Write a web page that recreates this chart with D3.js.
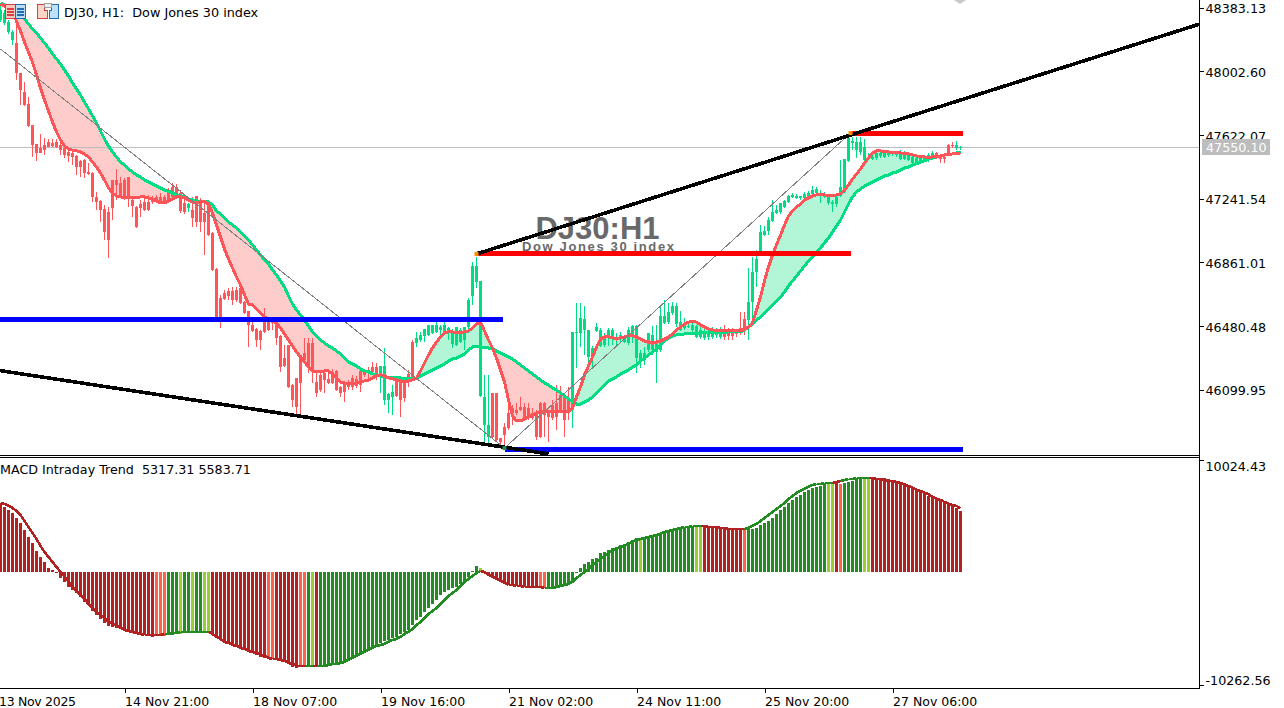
<!DOCTYPE html>
<html>
<head>
<meta charset="utf-8">
<script src="https://cdn.jsdelivr.net/npm/d3@7/dist/d3.min.js"></script>
<style>
html,body{margin:0;padding:0;background:#fff;overflow:hidden}
svg{display:block}
text{font-family:"DejaVu Sans",sans-serif;font-size:12.7px;fill:#000}
</style>
</head>
<body>
<div id="chart"></div>
<script>
const candleOpen=[48308,48291,48237,48189,48171,47992,47878,47806,47681,47567,47543,47561,47579,47573,47579,47561,47543,47520,47514,47496,47466,47472,47400,47394,47251,47227,47179,47161,47352,47352,47334,47352,47370,47233,47191,47209,47221,47221,47245,47251,47251,47251,47280,47310,47310,47274,47215,47185,47173,47257,47215,47155,47203,47035,46820,46647,46677,46689,46689,46695,46707,46623,46569,46486,46462,46450,46533,46515,46515,46498,46420,46288,46366,46127,46169,46306,46318,46378,46378,46145,46187,46199,46163,46205,46211,46115,46139,46139,46169,46163,46211,46205,46217,46235,46235,46193,46037,46037,46055,46157,46169,46139,46193,46384,46378,46396,46420,46426,46438,46444,46456,46444,46450,46372,46366,46384,46396,46474,46659,46743,46061,45888,45816,46079,46079,45810,45876,45960,45989,45978,45995,45995,45989,45960,45966,46019,46019,45966,46007,46019,46067,46055,46037,45978,46438,46438,46456,46294,46288,46450,46360,46366,46408,46408,46396,46408,46384,46378,46414,46288,46264,46276,46336,46336,46324,46336,46498,46503,46557,46492,46456,46468,46474,46456,46414,46414,46408,46414,46414,46426,46414,46456,46444,46444,46444,46468,46521,46515,46623,46802,46922,47023,47047,47107,47155,47161,47191,47221,47251,47245,47245,47245,47251,47269,47274,47257,47251,47215,47209,47209,47257,47280,47466,47573,47531,47520,47472,47478,47478,47484,47496,47490,47502,47508,47502,47478,47478,47472,47454,47448,47460,47472,47472,47484,47514,47490,47490,47561,47561,47543,47543];
const candleHigh=[48398,48368,48308,48249,48279,47992,47938,47848,47681,47567,47627,47603,47597,47597,47597,47573,47555,47549,47531,47502,47472,47478,47454,47400,47280,47233,47203,47191,47352,47418,47370,47364,47370,47251,47197,47233,47263,47263,47257,47263,47274,47263,47304,47334,47328,47292,47251,47215,47251,47257,47245,47215,47209,47041,46826,46665,46695,46707,46713,46713,46725,46629,46569,46503,46468,46456,46587,46533,46527,46503,46426,46366,46366,46133,46169,46306,46408,46408,46408,46205,46211,46217,46217,46223,46217,46121,46151,46157,46187,46181,46217,46223,46235,46264,46258,46241,46348,46079,46127,46175,46169,46169,46217,46396,46444,46444,46462,46486,46486,46503,46486,46503,46474,46462,46474,46468,46474,46647,46862,46892,46749,46187,46187,46079,46079,45810,45900,46007,46007,46019,46055,46019,46019,45989,45978,46025,46025,45978,46037,46127,46121,46055,46115,46444,46617,46617,46599,46456,46360,46498,46468,46438,46468,46468,46438,46444,46420,46474,46486,46486,46336,46354,46438,46480,46486,46593,46635,46617,46623,46617,46569,46527,46498,46498,46486,46480,46474,46474,46474,46468,46474,46486,46468,46468,46462,46563,46563,46828,46892,46934,47083,47077,47131,47233,47203,47215,47233,47263,47274,47269,47257,47280,47286,47316,47310,47292,47280,47269,47233,47263,47472,47478,47609,47609,47609,47609,47597,47514,47514,47526,47520,47520,47526,47526,47526,47531,47526,47520,47502,47496,47496,47502,47514,47526,47520,47502,47502,47567,47579,47585,47555];
const candleLow=[48297,48279,48225,48159,47950,47800,47794,47669,47490,47466,47514,47502,47549,47549,47543,47502,47484,47460,47442,47382,47370,47364,47382,47221,47173,47101,46994,46886,47113,47233,47245,47233,47191,47131,47065,47131,47167,47167,47209,47215,47209,47215,47221,47245,47251,47155,47149,47161,47071,47071,47041,46904,47017,46808,46521,46468,46635,46635,46605,46623,46611,46551,46354,46444,46354,46336,46438,46450,46456,46366,46205,46235,46109,45995,45948,45948,46264,46199,46139,46055,46085,46079,46133,46133,46091,46055,46025,46097,46097,46109,46085,46175,46145,46199,46157,46079,46007,45960,45948,46055,45936,46025,46115,46169,46354,46384,46384,46420,46432,46438,46426,46426,46396,46348,46360,46378,46336,46438,46605,46707,46055,45768,45768,45804,45786,45768,45750,45858,45888,45948,45972,45924,45918,45918,45798,45810,45816,45786,45918,45858,45960,45816,45918,45870,46229,46354,46306,46229,46235,46444,46354,46354,46360,46366,46366,46378,46378,46366,46378,46199,46229,46246,46324,46306,46139,46324,46492,46492,46545,46474,46450,46456,46468,46444,46408,46402,46396,46396,46402,46408,46402,46396,46396,46396,46414,46426,46426,46396,46527,46713,46916,47017,47023,47101,47149,47149,47185,47215,47245,47239,47233,47239,47239,47263,47257,47215,47245,47203,47161,47191,47251,47274,47460,47531,47484,47502,47466,47472,47472,47472,47484,47484,47490,47496,47490,47472,47472,47466,47442,47442,47454,47466,47460,47472,47478,47454,47454,47496,47543,47531,47531];
const candleClose=[48368,48350,48297,48237,47992,47890,47800,47675,47561,47514,47514,47531,47549,47555,47549,47531,47502,47496,47490,47430,47430,47394,47388,47251,47221,47173,47041,46994,47185,47322,47251,47239,47245,47197,47071,47185,47173,47173,47221,47221,47221,47221,47227,47251,47263,47167,47161,47209,47125,47101,47101,47101,47023,46814,46527,46515,46641,46659,46635,46635,46617,46557,46486,46450,46396,46396,46444,46456,46498,46408,46235,46241,46115,46037,45995,46139,46276,46235,46217,46079,46097,46157,46139,46139,46097,46079,46085,46115,46115,46121,46127,46187,46199,46205,46193,46241,46241,46073,46085,46061,46037,46049,46169,46175,46408,46426,46462,46486,46486,46486,46474,46486,46468,46450,46474,46456,46474,46635,46838,46838,46749,46055,45888,45816,45798,45786,45828,45870,45960,45960,45978,45930,45930,45930,45816,45816,45948,45936,45930,45936,45978,45918,45960,46444,46444,46527,46521,46456,46348,46474,46456,46408,46456,46456,46414,46426,46414,46456,46480,46480,46318,46318,46438,46426,46378,46539,46539,46563,46599,46599,46503,46486,46480,46486,46480,46456,46450,46450,46450,46444,46450,46414,46420,46420,46432,46438,46468,46623,46802,46880,47041,47047,47113,47161,47173,47215,47227,47257,47263,47257,47257,47269,47274,47292,47298,47274,47269,47257,47221,47251,47310,47478,47603,47585,47579,47579,47549,47490,47490,47514,47514,47514,47520,47520,47520,47520,47514,47514,47490,47484,47490,47490,47502,47514,47484,47478,47478,47502,47555,47561,47549];
const fastMA=[48404,48392,48380,48350,48302,48243,48177,48117,48057,47980,47902,47830,47765,47699,47639,47591,47555,47537,47531,47526,47520,47508,47490,47460,47430,47394,47352,47304,47274,47257,47251,47245,47245,47245,47245,47251,47251,47245,47239,47227,47215,47215,47227,47239,47251,47251,47245,47233,47221,47215,47221,47221,47209,47155,47083,47012,46940,46880,46826,46772,46725,46665,46611,46605,46581,46557,46533,46521,46509,46498,46468,46432,46396,46360,46324,46294,46264,46235,46211,46205,46205,46211,46211,46193,46169,46145,46139,46133,46133,46139,46145,46151,46157,46169,46181,46187,46181,46169,46163,46157,46151,46145,46151,46157,46169,46211,46258,46306,46348,46384,46414,46438,46444,46444,46438,46438,46444,46450,46468,46492,46503,46450,46396,46348,46288,46217,46145,46037,45942,45912,45912,45924,45936,45948,45960,45966,45966,45966,45966,45966,45966,45966,45966,45989,46055,46115,46187,46241,46294,46354,46402,46414,46414,46408,46402,46408,46414,46420,46420,46414,46402,46390,46384,46378,46384,46390,46402,46414,46432,46456,46474,46492,46503,46509,46503,46486,46474,46462,46456,46450,46450,46450,46450,46450,46450,46450,46462,46474,46498,46575,46653,46749,46832,46904,46964,47023,47083,47137,47167,47191,47209,47233,47245,47257,47263,47263,47263,47257,47257,47263,47269,47292,47322,47358,47388,47418,47454,47484,47514,47526,47526,47520,47520,47514,47514,47514,47508,47508,47502,47496,47490,47490,47484,47490,47490,47496,47502,47502,47508,47508,47514];
const slowMA=[48410,48398,48380,48368,48350,48332,48314,48285,48255,48231,48201,48171,48141,48105,48075,48045,48010,47974,47932,47896,47860,47818,47777,47735,47693,47645,47597,47555,47520,47490,47460,47442,47418,47400,47382,47370,47352,47340,47328,47316,47304,47292,47286,47274,47263,47257,47251,47239,47233,47227,47221,47221,47221,47203,47167,47149,47125,47101,47083,47065,47041,47017,46994,46964,46934,46904,46874,46850,46814,46784,46749,46713,46659,46611,46575,46545,46515,46480,46444,46420,46396,46378,46360,46348,46330,46312,46288,46264,46252,46241,46223,46211,46205,46193,46187,46181,46175,46169,46169,46169,46169,46163,46163,46163,46169,46181,46193,46205,46217,46229,46241,46252,46270,46282,46288,46300,46312,46336,46354,46354,46354,46348,46348,46342,46330,46318,46306,46294,46282,46264,46246,46229,46211,46193,46175,46157,46139,46127,46109,46097,46079,46061,46043,46025,46013,46013,46025,46037,46055,46079,46103,46127,46151,46163,46175,46193,46205,46217,46235,46246,46270,46288,46306,46324,46342,46366,46390,46408,46420,46426,46426,46432,46432,46432,46432,46438,46438,46438,46438,46438,46438,46438,46444,46444,46444,46444,46456,46474,46492,46515,46533,46557,46581,46605,46629,46653,46683,46719,46749,46778,46808,46838,46868,46892,46922,46946,46976,47006,47041,47077,47113,47161,47209,47251,47280,47298,47316,47328,47340,47352,47364,47376,47382,47394,47400,47412,47424,47430,47442,47448,47460,47466,47478,47484,47490,47496,47502,47502,47508,47514,47514];
const macdHist=[6059,5707,5442,5177,4736,4295,3678,3061,2531,1826,1297,856,326,150,-115,-556,-908,-1349,-1614,-1879,-2231,-2672,-2937,-3466,-3819,-4172,-4525,-4789,-4877,-4966,-5054,-5230,-5318,-5318,-5407,-5495,-5583,-5671,-5759,-5671,-5671,-5671,-5583,-5583,-5495,-5495,-5407,-5407,-5318,-5318,-5318,-5318,-5318,-5407,-5759,-5936,-6200,-6289,-6465,-6553,-6641,-6818,-7082,-7170,-7347,-7523,-7611,-7700,-7700,-7700,-7876,-7964,-8141,-8405,-8493,-8405,-8405,-8317,-8317,-8317,-8317,-8317,-8317,-8229,-8141,-8052,-8052,-7876,-7611,-7435,-7259,-7082,-6906,-6729,-6465,-6289,-6112,-6024,-5847,-5759,-5495,-5318,-5142,-4701,-4260,-3996,-3554,-3202,-2849,-2496,-2055,-1790,-1614,-1438,-1349,-1085,-908,-467,60,503,326,-115,-203,-467,-556,-820,-1085,-1085,-1173,-1261,-1261,-1349,-1349,-1349,-1349,-1349,-1349,-1349,-1349,-1349,-1261,-1261,-1173,-997,-115,326,679,856,1120,1208,1649,1738,1914,2090,2179,2355,2443,2620,2796,2972,2972,3061,3061,3149,3237,3325,3413,3502,3590,3766,3854,3854,3943,3943,3943,3943,4031,4031,3943,3943,3943,3943,3854,3854,3766,3766,3766,3766,3766,3854,4119,4295,4472,4736,5089,5442,5707,6059,6324,6589,6765,7030,7206,7382,7470,7559,7735,7823,7823,7823,7735,7823,7911,8000,8176,8264,8264,8264,8264,8264,8264,8264,8176,8088,8000,7911,7823,7559,7382,7206,7030,6853,6677,6589,6500,6236,6059,5883,5795,5618,5317];
const macdSignal=[6059,5971,5795,5618,5354,5001,4472,3943,3413,2884,2267,1738,1297,856,415,-26,-379,-908,-1349,-1702,-2055,-2408,-2849,-3202,-3554,-3819,-4084,-4437,-4613,-4789,-4966,-5142,-5230,-5318,-5407,-5495,-5583,-5583,-5583,-5583,-5583,-5495,-5495,-5407,-5407,-5318,-5318,-5318,-5318,-5318,-5318,-5318,-5318,-5495,-5759,-5936,-6200,-6289,-6465,-6553,-6729,-6818,-6994,-7082,-7170,-7347,-7435,-7611,-7700,-7700,-7788,-7876,-8052,-8141,-8317,-8317,-8317,-8317,-8317,-8317,-8317,-8317,-8229,-8141,-8141,-8052,-7964,-7788,-7611,-7435,-7259,-7082,-6906,-6729,-6553,-6465,-6377,-6200,-6024,-5936,-5759,-5495,-5318,-5054,-4701,-4437,-4084,-3731,-3466,-3202,-2849,-2496,-2143,-1879,-1614,-1261,-908,-644,-379,-115,58,-26,-291,-467,-644,-820,-997,-1173,-1173,-1261,-1261,-1349,-1349,-1349,-1349,-1349,-1438,-1438,-1438,-1349,-1261,-1173,-1085,-908,-556,-291,-26,238,591,856,1120,1385,1649,1826,2002,2179,2267,2443,2620,2796,2884,2972,3061,3149,3237,3325,3502,3590,3678,3766,3854,3943,3943,4031,4031,4031,4031,3943,3943,3943,3854,3854,3766,3766,3766,3766,3766,3854,4031,4207,4472,4736,5001,5266,5530,5795,6059,6412,6677,6941,7118,7294,7470,7647,7735,7735,7823,7823,7823,7911,8000,8088,8176,8176,8264,8264,8264,8264,8264,8176,8176,8088,8000,8000,7911,7823,7647,7559,7382,7206,7118,6941,6853,6589,6412,6324,6147,5971,5883,5795,5584];
const histRuns=[["fall",39],["fallSoft",3],["rise",3],["riseSoft",1],["rise",2],["riseSoft",1],["rise",2],["riseSoft",2],["fall",14],["fallSoft",2],["fall",6],["fallSoft",2],["rise",1],["riseSoft",1],["fall",1],["rise",40],["riseSoft",1],["fall",14],["fallSoft",2],["rise",23],["riseSoft",1],["rise",13],["riseSoft",2],["fall",10],["fallSoft",1],["rise",20],["riseSoft",2],["fall",1],["fallSoft",1],["rise",5],["riseSoft",2],["fall",23]];
const histState=histRuns.flatMap(([s,n])=>Array(n).fill(s));
const priceTicks=[48383.13,48002.60,47622.07,47241.54,46861.01,46480.48,46099.95];
const macdTicks=[10024.43,-10262.56];
const timeTicks=[31,63,95,127,159,191,223];
const timeLabels=["14 Nov 21:00","18 Nov 07:00","19 Nov 16:00","21 Nov 02:00","24 Nov 11:00","25 Nov 20:00","27 Nov 06:00"];
const firstTimeLabel="13 Nov 2025";
const lastPrice=47550.10;
const trendUpper=[[119,46910],[299.75,48284]];
const trendLower=[[-1,46216],[137,45715]];
const zigzag=[[0,48135],[126,45750],[212.5,47633]];
const redLevels=[[119,212.5,46910],[212.5,240.5,47633]];
const blueLevels=[[-1,125.5,46521],[126,240.5,45744]];

const W=1284,H=708,axisX=1199,mainBottom=455,subTop=458,subBottom=688;
const svg=d3.select("#chart").append("svg").attr("width",W).attr("height",H);
const x=d3.scaleLinear().domain([0,300]).range([0.5,1200.5]);
const y=d3.scaleLinear().domain([48383.13,46099.95]).range([7.5,389.5]);
const yM=d3.scaleLinear().domain([10024.43,-10262.56]).range([subTop,subBottom]);
const bars=d3.range(candleOpen.length);

svg.append("defs").append("clipPath").attr("id","mainClip").append("rect").attr("x",0).attr("y",0).attr("width",axisX).attr("height",mainBottom);
const main=svg.append("g").attr("clip-path","url(#mainClip)");

const areaUp=d3.area().x(i=>x(i)).y0(i=>y(slowMA[i])).y1(i=>y(Math.max(fastMA[i],slowMA[i])));
const areaDn=d3.area().x(i=>x(i)).y0(i=>y(slowMA[i])).y1(i=>y(Math.min(fastMA[i],slowMA[i])));
main.append("path").datum(bars).attr("d",areaUp).attr("fill","#B2F5D7");
main.append("path").datum(bars).attr("d",areaDn).attr("fill","#FFCCCC");

const UP="#00DC82",DN="#FF5558";
const col=i=>candleClose[i]>=candleOpen[i]?UP:DN;
main.append("line").attr("x1",0).attr("x2",axisX).attr("y1",Math.round(y(lastPrice))+.5).attr("y2",Math.round(y(lastPrice))+.5).attr("stroke","#BDBDBD");

const cg=main.append("g").attr("shape-rendering","crispEdges");
cg.selectAll("line").data(bars).join("line")
 .attr("x1",i=>x(i)).attr("x2",i=>x(i)).attr("y1",i=>y(candleHigh[i])).attr("y2",i=>y(candleLow[i])).attr("stroke",col);
cg.selectAll("rect").data(bars).join("rect")
 .attr("x",i=>x(i)-1.5).attr("width",3)
 .attr("y",i=>y(Math.max(candleOpen[i],candleClose[i])))
 .attr("height",i=>Math.max(1,Math.abs(y(candleOpen[i])-y(candleClose[i])))).attr("fill",col);

const lineFn=a=>d3.line().x(i=>x(i)).y(i=>y(a[i]));
main.append("path").datum(bars).attr("d",lineFn(slowMA)).attr("fill","none").attr("stroke","#00DC82").attr("stroke-width",3).attr("shape-rendering","crispEdges");
main.append("path").datum(bars).attr("d",lineFn(fastMA)).attr("fill","none").attr("stroke","#FF5558").attr("stroke-width",3).attr("shape-rendering","crispEdges");

// chart title objects sit under the drawn trend lines
main.append("text").attr("x",597.5).attr("y",238.5).attr("text-anchor","middle").style("font-size","31px").style("font-weight","bold").style("font-family","'Liberation Sans'").style("fill","#696969").text("DJ30:H1");
main.append("text").attr("x",522).attr("y",251).style("font-size","13px").style("font-weight","bold").style("font-family","'Liberation Sans'").style("fill","#696969").attr("textLength",152).text("Dow Jones 30 index");

// chart objects
const ptLine=d3.line().x(d=>x(d[0])).y(d=>y(d[1]));
main.append("path").datum(zigzag).attr("d",ptLine).attr("fill","none").attr("stroke","#808080").attr("stroke-width",1).attr("shape-rendering","crispEdges");
main.selectAll(".red").data(redLevels).join("rect").attr("class","red").attr("x",d=>x(d[0])).attr("width",d=>x(d[1])-x(d[0])).attr("y",d=>y(d[2])-2.5).attr("height",5).attr("fill","#FF0000").attr("shape-rendering","crispEdges");
main.selectAll(".blue").data(blueLevels).join("rect").attr("class","blue").attr("x",d=>x(d[0])).attr("width",d=>x(d[1])-x(d[0])).attr("y",d=>y(d[2])-2.5).attr("height",5).attr("fill","#0000FF").attr("shape-rendering","crispEdges");
[trendUpper,trendLower].forEach(t=>main.append("path").datum(t).attr("d",ptLine).attr("fill","none").attr("stroke","#000").attr("stroke-width",3.6).attr("shape-rendering","crispEdges"));
[[119,46910],[212.5,47633]].forEach(a=>main.append("rect").attr("x",x(a[0])-2).attr("y",y(a[1])-2).attr("width",4).attr("height",4).attr("fill","#FF8C00"));
main.append("rect").attr("x",x(126)-2).attr("y",y(45750)-2).attr("width",4).attr("height",4).attr("fill","#2E8B57");

// top-right chart-shift marker
main.append("path").attr("d",d3.line()([[954,0],[966,0],[960,4]])).attr("fill","#C8C8C8");

// header icons
const icon=svg.append("g").attr("shape-rendering","crispEdges");
icon.append("rect").attr("x",5.5).attr("y",4.5).attr("width",10).attr("height",14).attr("fill","#F8C8C0").attr("stroke","#D84040");
icon.append("rect").attr("x",15.5).attr("y",4.5).attr("width",10).attr("height",14).attr("fill","#B8DCF4").attr("stroke","#1F6FB0");
[8,11,14].forEach(v=>{icon.append("rect").attr("x",7).attr("y",v).attr("width",7).attr("height",1.5).attr("fill","#D84040");icon.append("rect").attr("x",17).attr("y",v).attr("width",7).attr("height",1.5).attr("fill","#1F6FB0");});
icon.append("path").attr("d","M37.5 4.5h7v6h2.5v8h-9.5z").attr("fill","#FAD5C8").attr("stroke","#D84040");
icon.append("path").attr("d","M49.5 10.5h2v-6h7v14h-9z").attr("fill","#BFE0F7").attr("stroke","#1F6FB0");
icon.append("rect").attr("x",44.5).attr("y",3.5).attr("width",7).attr("height",4).attr("fill","#EEEEEE").attr("stroke","#A0A0A0");

svg.append("text").attr("x",64).attr("y",17).style("font-size","12.8px").text("DJ30, H1:  Dow Jones 30 index").attr("xml:space","preserve");

// MACD pane
const sub=svg.append("g").attr("shape-rendering","crispEdges");
const histColor={fall:"#B22222",fallSoft:"#FF6347",rise:"#228B22",riseSoft:"#9ACD32"};
sub.selectAll("rect").data(bars).join("rect")
 .attr("x",i=>x(i)-1.5).attr("width",3)
 .attr("y",i=>Math.min(yM(0),yM(macdHist[i])))
 .attr("height",i=>Math.max(1,Math.abs(yM(macdHist[i])-yM(0))))
 .attr("fill",i=>histColor[histState[i]]);
const sigColor=i=>histState[i].startsWith("rise")?"#228B22":"#B22222";
sub.selectAll("line").data(bars.slice(1)).join("line")
 .attr("x1",i=>x(i-1)).attr("x2",i=>x(i)).attr("y1",i=>yM(macdSignal[i-1])).attr("y2",i=>yM(macdSignal[i]))
 .attr("stroke",sigColor).attr("stroke-width",2.6);
svg.append("text").attr("x",0).attr("y",474).attr("xml:space","preserve").text("MACD Intraday Trend  5317.31 5583.71");

// frames
const frame=svg.append("g").attr("shape-rendering","crispEdges").attr("stroke","#000");
frame.append("line").attr("x1",0).attr("x2",axisX+1).attr("y1",455.5).attr("y2",455.5);
frame.append("line").attr("x1",0).attr("x2",axisX+1).attr("y1",457.5).attr("y2",457.5);
frame.append("line").attr("x1",0).attr("x2",axisX+1).attr("y1",688.5).attr("y2",688.5);
frame.append("line").attr("x1",axisX+.5).attr("x2",axisX+.5).attr("y1",0).attr("y2",689);

// axes
const axY=d3.axisRight(y).tickValues(priceTicks).tickFormat(d3.format(".2f")).tickSize(4).tickPadding(2);
const gy=svg.append("g").attr("transform",`translate(${axisX+.5},0)`).call(axY);
gy.select(".domain").remove();
gy.selectAll("line").attr("stroke","#000").attr("shape-rendering","crispEdges");
gy.selectAll("text").attr("dy","0.42em").style("font-size","12.7px").style("font-family","'DejaVu Sans'");

svg.append("rect").attr("x",1202).attr("y",139).attr("width",68).attr("height",16).attr("fill","#BDBDBD");
svg.append("text").attr("x",1206).attr("y",152).style("fill","#fff").text(lastPrice.toFixed(2));

const macdTickMark=d3.scaleOrdinal().domain(macdTicks).range([460,685]);
const macdLabelPos=d3.scaleOrdinal().domain(macdTicks).range([466,680]);
const gm=svg.append("g").attr("transform",`translate(${axisX+.5},0)`);
gm.selectAll("line").data(macdTicks).join("line").attr("x1",0).attr("x2",4).attr("y1",d=>macdTickMark(d)+.5).attr("y2",d=>macdTickMark(d)+.5).attr("stroke","#000").attr("shape-rendering","crispEdges");
gm.selectAll("text").data(macdTicks).join("text").attr("x",6).attr("y",d=>macdLabelPos(d)).attr("dy","0.38em").text(d=>d.toFixed(2));

const axT=d3.axisBottom(x).tickValues(timeTicks).tickFormat((d,i)=>timeLabels[i]).tickSize(4).tickPadding(5);
const gx=svg.append("g").attr("transform",`translate(0,${subBottom+.5})`).call(axT);
gx.select(".domain").remove();
gx.selectAll("line").attr("stroke","#000").attr("shape-rendering","crispEdges");
gx.selectAll("text").attr("text-anchor","start").attr("dx",0).style("font-size","12.5px").style("font-family","'DejaVu Sans'");
svg.append("text").attr("x",-1).attr("y",706).style("font-size","12.5px").attr("textLength",77).text(firstTimeLabel);
</script>
</body>
</html>
